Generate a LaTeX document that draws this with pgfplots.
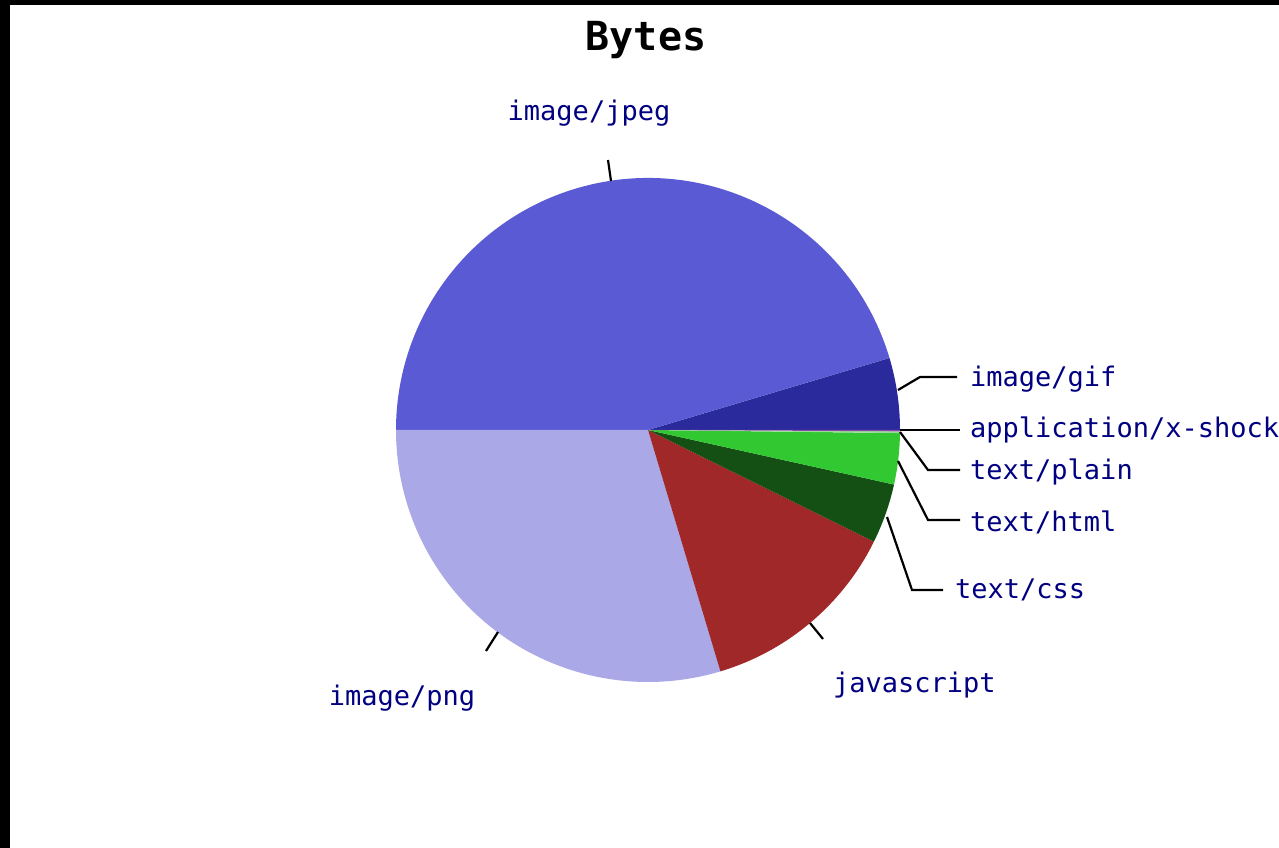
\documentclass[border=0pt]{standalone}
\usepackage{pgfplots}
\pgfplotsset{compat=1.18}
\usepackage{pgfplotstable}
\usepackage{fontspec}
\setmonofont{DejaVu Sans Mono}

\definecolor{cgif}{RGB}{42,42,156}
\definecolor{cjpeg}{RGB}{90,90,212}
\definecolor{cpng}{RGB}{170,168,230}
\definecolor{cjs}{RGB}{160,40,40}
\definecolor{ccss}{RGB}{20,80,20}
\definecolor{chtml}{RGB}{50,200,50}
\definecolor{cplain}{RGB}{150,220,150}
\definecolor{cflash}{RGB}{140,70,170}
\definecolor{lbl}{RGB}{0,0,128}

% share of the pie, in degrees, counter-clockwise from east
\pgfplotstableread[col sep=comma]{
type,span,color
image/gif,16.6,cgif
image/jpeg,163.4,cjpeg
image/png,106.7,cpng
javascript,47.0,cjs
text/css,13.8,ccss
text/html,11.8,chtml
text/plain,0.4,cplain
application/x-shockwave-flash,0.3,cflash
}\slices

\begin{document}
\begin{tikzpicture}
\useasboundingbox (0,0) rectangle (1279pt,848pt);
\begin{axis}[
  width=1279pt, height=848pt, scale only axis,
  xmin=0, xmax=1279, ymin=0, ymax=848,
  hide axis, clip=false]
  % frame edges
  \addplot[fill=black, draw=none] coordinates {(0,0) (10,0) (10,848) (0,848)} -- cycle;
  \addplot[fill=black, draw=none] coordinates {(0,843) (1279,843) (1279,848) (0,848)} -- cycle;

  % pie slices
  \gdef\st{0}
  \pgfplotstableforeachcolumnelement{span}\of\slices\as\sp{%
    \pgfmathsetmacro\en{\st+\sp}%
    \pgfplotstablegetelem{\pgfplotstablerow}{color}\of\slices
    \edef\tmp{\noexpand\fill[\pgfplotsretval] (axis cs:648,418) -- ++(\st:252pt)
      arc[start angle=\st, end angle=\en, radius=252pt] -- cycle;}%
    \tmp
    \global\let\st\en}

  % leader lines
  \begin{scope}[line width=2.2pt]
  \draw (axis cs:611,667) -- (axis cs:608,688);
  \draw (axis cs:498,216) -- (axis cs:486,197);
  \draw (axis cs:810,225) -- (axis cs:823,209);
  \draw (axis cs:898,458) -- (axis cs:920,471) -- (axis cs:957,471);
  \draw (axis cs:900,418) -- (axis cs:960,418);
  \draw (axis cs:900,416) -- (axis cs:928,378) -- (axis cs:960,378);
  \draw (axis cs:898,387) -- (axis cs:928,328) -- (axis cs:960,328);
  \draw (axis cs:887,331) -- (axis cs:912,258) -- (axis cs:943,258);
  \end{scope}

  % labels
  \begin{scope}[font=\ttfamily\fontsize{27}{30}\selectfont, text=lbl, inner sep=0pt]
  \node at (axis cs:589,735) {image/jpeg};
  \node at (axis cs:402,150) {image/png};
  \node[anchor=west] at (axis cs:833,163) {javascript};
  \node[anchor=west] at (axis cs:970,469) {image/gif};
  \node[anchor=west] at (axis cs:970,418) {application/x-shockwave-flash};
  \node[anchor=west] at (axis cs:970,376) {text/plain};
  \node[anchor=west] at (axis cs:970,326) {text/html};
  \node[anchor=west] at (axis cs:955,258) {text/css};
  \end{scope}
  \node[font=\ttfamily\bfseries\fontsize{40}{44}\selectfont] at (axis cs:646,808) {Bytes};
\end{axis}
\end{tikzpicture}
\end{document}
